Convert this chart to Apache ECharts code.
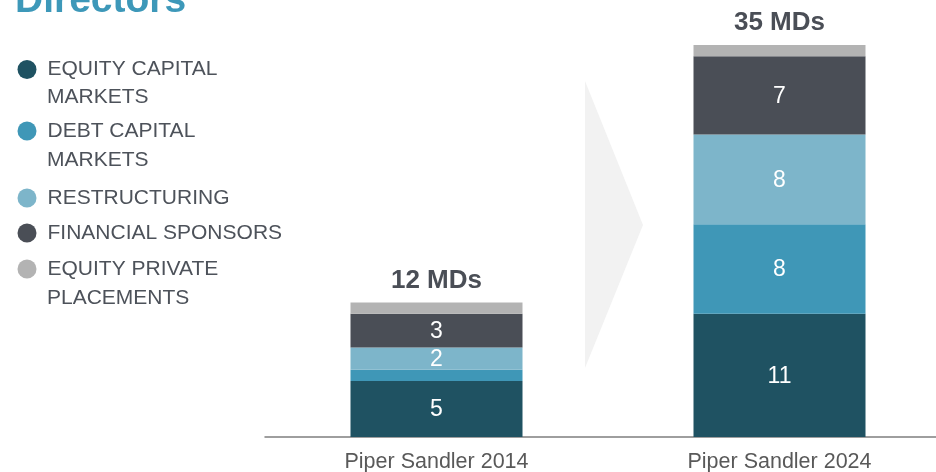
<!DOCTYPE html>
<html><head><meta charset="utf-8">
<script src="https://cdn.jsdelivr.net/npm/echarts@6/dist/echarts.min.js"></script>
<style>html,body{margin:0;padding:0;background:#fff}#c{width:936px;height:472px}</style>
</head><body><div id="c"></div>
<script>
const categories = ['Piper Sandler 2014', 'Piper Sandler 2024'];
const equityCapitalMarkets = [5, 11];
const debtCapitalMarkets = [1, 8];
const restructuring = [2, 8];
const financialSponsors = [3, 7];
const equityPrivatePlacements = [1, 1];
const totals = [12, 35];
const seriesNames = ['EQUITY CAPITAL MARKETS', 'DEBT CAPITAL MARKETS', 'RESTRUCTURING', 'FINANCIAL SPONSORS', 'EQUITY PRIVATE PLACEMENTS'];
const legendFirstLines = ['EQUITY CAPITAL', 'DEBT CAPITAL', 'RESTRUCTURING', 'FINANCIAL SPONSORS', 'EQUITY PRIVATE'];
const legendSecondLines = ['MARKETS', 'MARKETS', '', '', 'PLACEMENTS'];
const colors = ['#1f5262', '#3f97b7', '#7db5ca', '#4a4e56', '#b3b3b3'];
const allValues = [equityCapitalMarkets, debtCapitalMarkets, restructuring, financialSponsors, equityPrivatePlacements];

const FONT = 'Liberation Sans, Arial, sans-serif';
const legendCenters = [69.5, 131, 198, 233, 269];
const secondCenters = [96, 159.5, 0, 0, 297.5];

const chart = echarts.init(document.getElementById('c'));

const series = allValues.map((vals, i) => {
  const s = {
    name: seriesNames[i],
    type: 'bar',
    stack: 'total',
    data: vals,
    barWidth: 172,
    itemStyle: { color: colors[i] },
    label: {
      show: true,
      position: 'inside',
      color: '#ffffff',
      fontFamily: FONT,
      fontSize: 23,
      offset: [0, 1],
      formatter: p => (p.value >= 2 ? String(p.value) : '')
    }
  };
  if (i === 4) {
    s.label = {
      show: true,
      position: 'top',
      distance: 9,
      color: '#4a4e56',
      fontFamily: FONT,
      fontSize: 26,
      fontWeight: 'bold',
      formatter: p => totals[p.dataIndex] + ' MDs'
    };
  }
  return s;
});

const legends = seriesNames.map((n, i) => ({
  data: [{ name: n, icon: 'circle' }],
  left: 17.5,
  top: legendCenters[i] - 10.5,
  padding: 0,
  itemWidth: 31,
  itemHeight: 19,
  selectedMode: false,
  formatter: () => legendFirstLines[i],
  textStyle: { color: '#4d525a', fontFamily: FONT, fontSize: 21, lineHeight: 21 }
}));

const graphics = [
  {
    type: 'polygon',
    shape: { points: [[585, 81], [643, 225], [585, 368]] },
    style: { fill: '#f2f2f2' },
    z: -10
  },
  {
    type: 'text',
    x: 15, y: 1,
    style: { text: 'Directors', fill: '#3d98b9', font: 'bold 39px ' + FONT, verticalAlign: 'middle' }
  }
];
legendSecondLines.forEach((t, i) => {
  if (t) graphics.push({
    type: 'text', x: 47, y: secondCenters[i] + 1,
    style: { text: t, fill: '#4d525a', font: '21px ' + FONT, verticalAlign: 'middle' }
  });
});

chart.setOption({
  animation: false,
  backgroundColor: '#ffffff',
  grid: { left: 265, right: -15, top: 45, bottom: 35, outerBoundsMode: 'none', containLabel: false },
  legend: legends,
  xAxis: {
    type: 'category',
    data: categories,
    axisLine: { lineStyle: { color: '#7f7f7f', width: 1.5 } },
    axisTick: { show: false },
    axisLabel: { color: '#595959', fontFamily: FONT, fontSize: 21.5, margin: 14 }
  },
  yAxis: { type: 'value', min: 0, max: 35, show: false, splitLine: { show: false } },
  series: series,
  graphic: graphics
});
</script></body></html>
